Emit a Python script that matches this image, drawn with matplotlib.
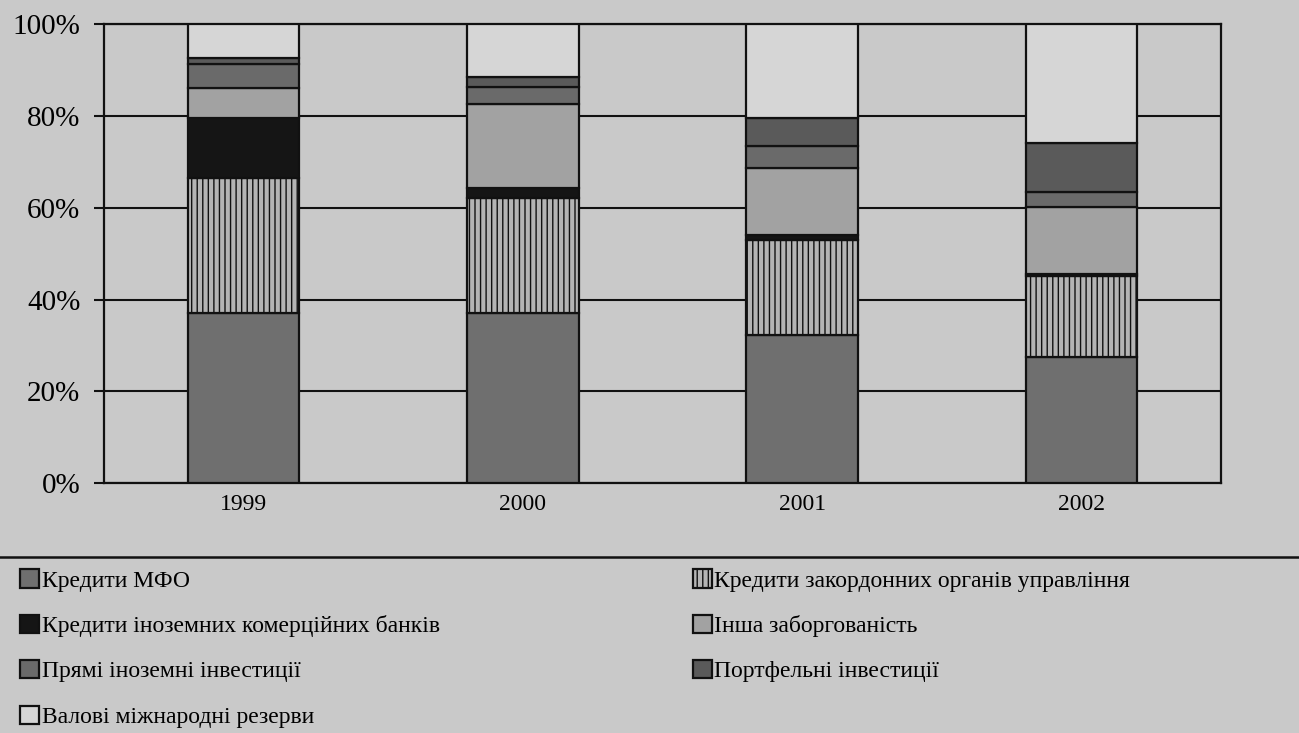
#!/usr/bin/env python3
"""Структура зовнішнього фінансування, 1999-2002 (%)"""

import matplotlib
matplotlib.use('Agg')
import matplotlib.pyplot as plt
from matplotlib.lines import Line2D
from matplotlib.ticker import PercentFormatter
import numpy as np

plt.rcParams['font.family'] = ['Liberation Serif', 'DejaVu Serif']

years = ['1999', '2000', '2001', '2002']

# частки, % (знизу вгору)
kredyty_mfo = [37.0, 37.0, 32.2, 27.5]
kredyty_organiv = [29.4, 25.1, 20.7, 17.6]
kredyty_bankiv = [13.1, 2.2, 1.1, 0.5]
insha = [6.6, 18.3, 14.6, 14.5]
priami = [5.2, 3.7, 4.8, 3.3]
portfelni = [1.3, 2.1, 6.1, 10.6]
rezervy = [7.4, 11.6, 20.5, 26.0]

series = [
    ('Кредити МФО', kredyty_mfo, '#6f6f6f', None),
    ('Кредити закордонних органів управління', kredyty_organiv, '#b4b4b4', '|||'),
    ('Кредити іноземних комерційних банків', kredyty_bankiv, '#151515', None),
    ('Інша заборгованість', insha, '#a2a2a2', None),
    ('Прямі іноземні інвестиції', priami, '#6a6a6a', None),
    ('Портфельні інвестиції', portfelni, '#5a5a5a', None),
    ('Валові міжнародні резерви', rezervy, '#d6d6d6', None),
]

BG = '#c9c9c9'

fig = plt.figure(figsize=(12.99, 7.33), dpi=100)
fig.patch.set_facecolor(BG)
ax = fig.add_axes([0.080, 0.341, 0.860, 0.626])
ax.set_facecolor(BG)

x = np.arange(len(years))
bottom = np.zeros(len(years))
handles = {}
for label, vals, color, hatch in series:
    bars = ax.bar(x, vals, 0.4, bottom=bottom, color=color, hatch=hatch,
                  edgecolor='#111111', linewidth=1.6, zorder=3, label=label)
    handles[label] = bars
    bottom += np.array(vals)

ax.set_xlim(-0.5, 3.5)
ax.set_ylim(0, 100)
ax.set_yticks(range(0, 101, 20))
ax.yaxis.set_major_formatter(PercentFormatter(decimals=0))
ax.set_xticks(x)
ax.set_xticklabels(years, fontsize=17)
ax.tick_params(axis='x', length=0, pad=8)
ax.tick_params(axis='y', direction='out', length=7, width=1.5, pad=10,
               labelsize=21, color='#111111')
ax.grid(axis='y', color='#111111', linewidth=1.5, zorder=1)
for side in ['left', 'right', 'bottom', 'top']:
    ax.spines[side].set_color('#111111')
    ax.spines[side].set_linewidth(1.6)

# роздільна лінія під графіком
fig.add_artist(Line2D([0, 1], [0.240, 0.240], transform=fig.transFigure,
                      color='#111111', linewidth=1.8))

left_labels = ['Кредити МФО', 'Кредити іноземних комерційних банків',
               'Прямі іноземні інвестиції', 'Валові міжнародні резерви']
right_labels = ['Кредити закордонних органів управління',
                'Інша заборгованість', 'Портфельні інвестиції']

leg_kw = dict(frameon=False, fontsize=17, handlelength=0.8, handleheight=0.8,
              handletextpad=0.12, labelspacing=0.98, borderaxespad=0)
leg1 = fig.legend([handles[l] for l in left_labels], left_labels,
                  loc='upper left', bbox_to_anchor=(0.008, 0.236), **leg_kw)
leg2 = fig.legend([handles[l] for l in right_labels], right_labels,
                  loc='upper left', bbox_to_anchor=(0.526, 0.236), **leg_kw)

fig.savefig('out.png', dpi=100, facecolor=BG)
plt.close(fig)
